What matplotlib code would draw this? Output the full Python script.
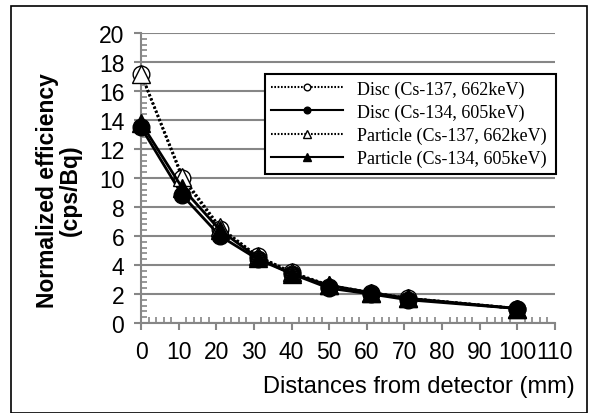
import matplotlib
matplotlib.use("Agg")
import matplotlib.pyplot as plt
from matplotlib.ticker import MultipleLocator
from matplotlib.patches import Rectangle

distances = [0, 11, 21, 31, 40, 50, 61, 71, 100]
disc_cs137 = [17.2, 10.0, 6.5, 4.6, 3.5, 2.5, 2.1, 1.7, 1.0]
disc_cs134 = [13.5, 8.8, 6.0, 4.4, 3.4, 2.4, 2.0, 1.6, 1.0]
particle_cs137 = [17.2, 10.1, 6.6, 4.6, 3.5, 2.6, 2.1, 1.7, 1.0]
particle_cs134 = [13.8, 9.3, 6.4, 4.5, 3.4, 2.6, 2.1, 1.7, 1.0]
labels = ["Disc (Cs-137, 662keV)", "Disc (Cs-134, 605keV)",
          "Particle (Cs-137, 662keV)", "Particle (Cs-134, 605keV)"]
xticks = list(range(0, 111, 10))
yticks = list(range(0, 21, 2))

sans = ["Liberation Sans", "DejaVu Sans"]
serif = ["Liberation Serif", "DejaVu Serif"]

fig = plt.figure(figsize=(5.94, 4.14), dpi=100)
ax = fig.add_axes([141/594, 1-324/414, 414/594, 290/414])

grey = "#868686"
dot = (0, (0.8, 0.8))
common = dict(color="black", lw=2, mec="black", mew=1, zorder=3, clip_on=False)
ax.plot(distances, disc_cs137, linestyle=dot, marker="o", ms=12, mfc="white",
        label=labels[0], **common)
ax.plot(distances, disc_cs134, linestyle="-", marker="o", ms=12, mfc="black",
        label=labels[1], **common)
ax.plot(distances, particle_cs137, linestyle=dot, marker="^", ms=13, mfc="white",
        label=labels[2], **common)
ax.plot(distances, particle_cs134, linestyle="-", marker="^", ms=13, mfc="black",
        label=labels[3], **common)

ax.set_xlim(0, 110)
ax.set_ylim(0, 20)
ax.set_xticks(xticks)
ax.set_yticks(yticks)
ax.xaxis.set_minor_locator(MultipleLocator(2))
ax.yaxis.set_minor_locator(MultipleLocator(0.4))
ax.tick_params(which="major", direction="out", length=5, width=1.5, color=grey,
               labelsize=16.5, pad=7)
ax.tick_params(which="minor", direction="in", length=4, width=1.2, color=grey)
for lab in ax.get_xticklabels() + ax.get_yticklabels():
    lab.set_family(sans)

ax.grid(axis="y", which="major", color=grey, lw=1.5)
ax.set_axisbelow(True)
for s in ["top", "right"]:
    ax.spines[s].set_visible(False)
for s in ["left", "bottom"]:
    ax.spines[s].set_color(grey)
    ax.spines[s].set_linewidth(1.5)

ax.set_xlabel("Distances from detector (mm)", fontsize=17, family=sans)
ax.xaxis.set_label_coords(0.67, -0.18)
ax.set_ylabel("Normalized efficiency\n(cps/Bq)", fontsize=16.5, family=sans,
              fontweight="bold", linespacing=1.0)
ax.yaxis.set_label_coords(-0.143, 0.46)

leg = ax.legend(loc="upper left", bbox_to_anchor=(0.299, 0.517, 0.703, 0.342),
                mode="expand", borderaxespad=0, prop={"family": serif, "size": 13},
                handlelength=4.0, markerscale=0.4, fancybox=False, frameon=True,
                labelspacing=0.33, borderpad=0.35, handletextpad=0.75)
leg.get_frame().set_edgecolor("black")
leg.get_frame().set_linewidth(1.5)
leg.get_frame().set_alpha(1)
for ln in leg.get_lines():
    ln.set_linewidth(1.5)

fig.patches.append(Rectangle((11/594, 0.5/414), 576/594, (407-0.5)/414,
                             transform=fig.transFigure, fill=False,
                             edgecolor="black", lw=1.2))

fig.savefig("out.png", dpi=100)
